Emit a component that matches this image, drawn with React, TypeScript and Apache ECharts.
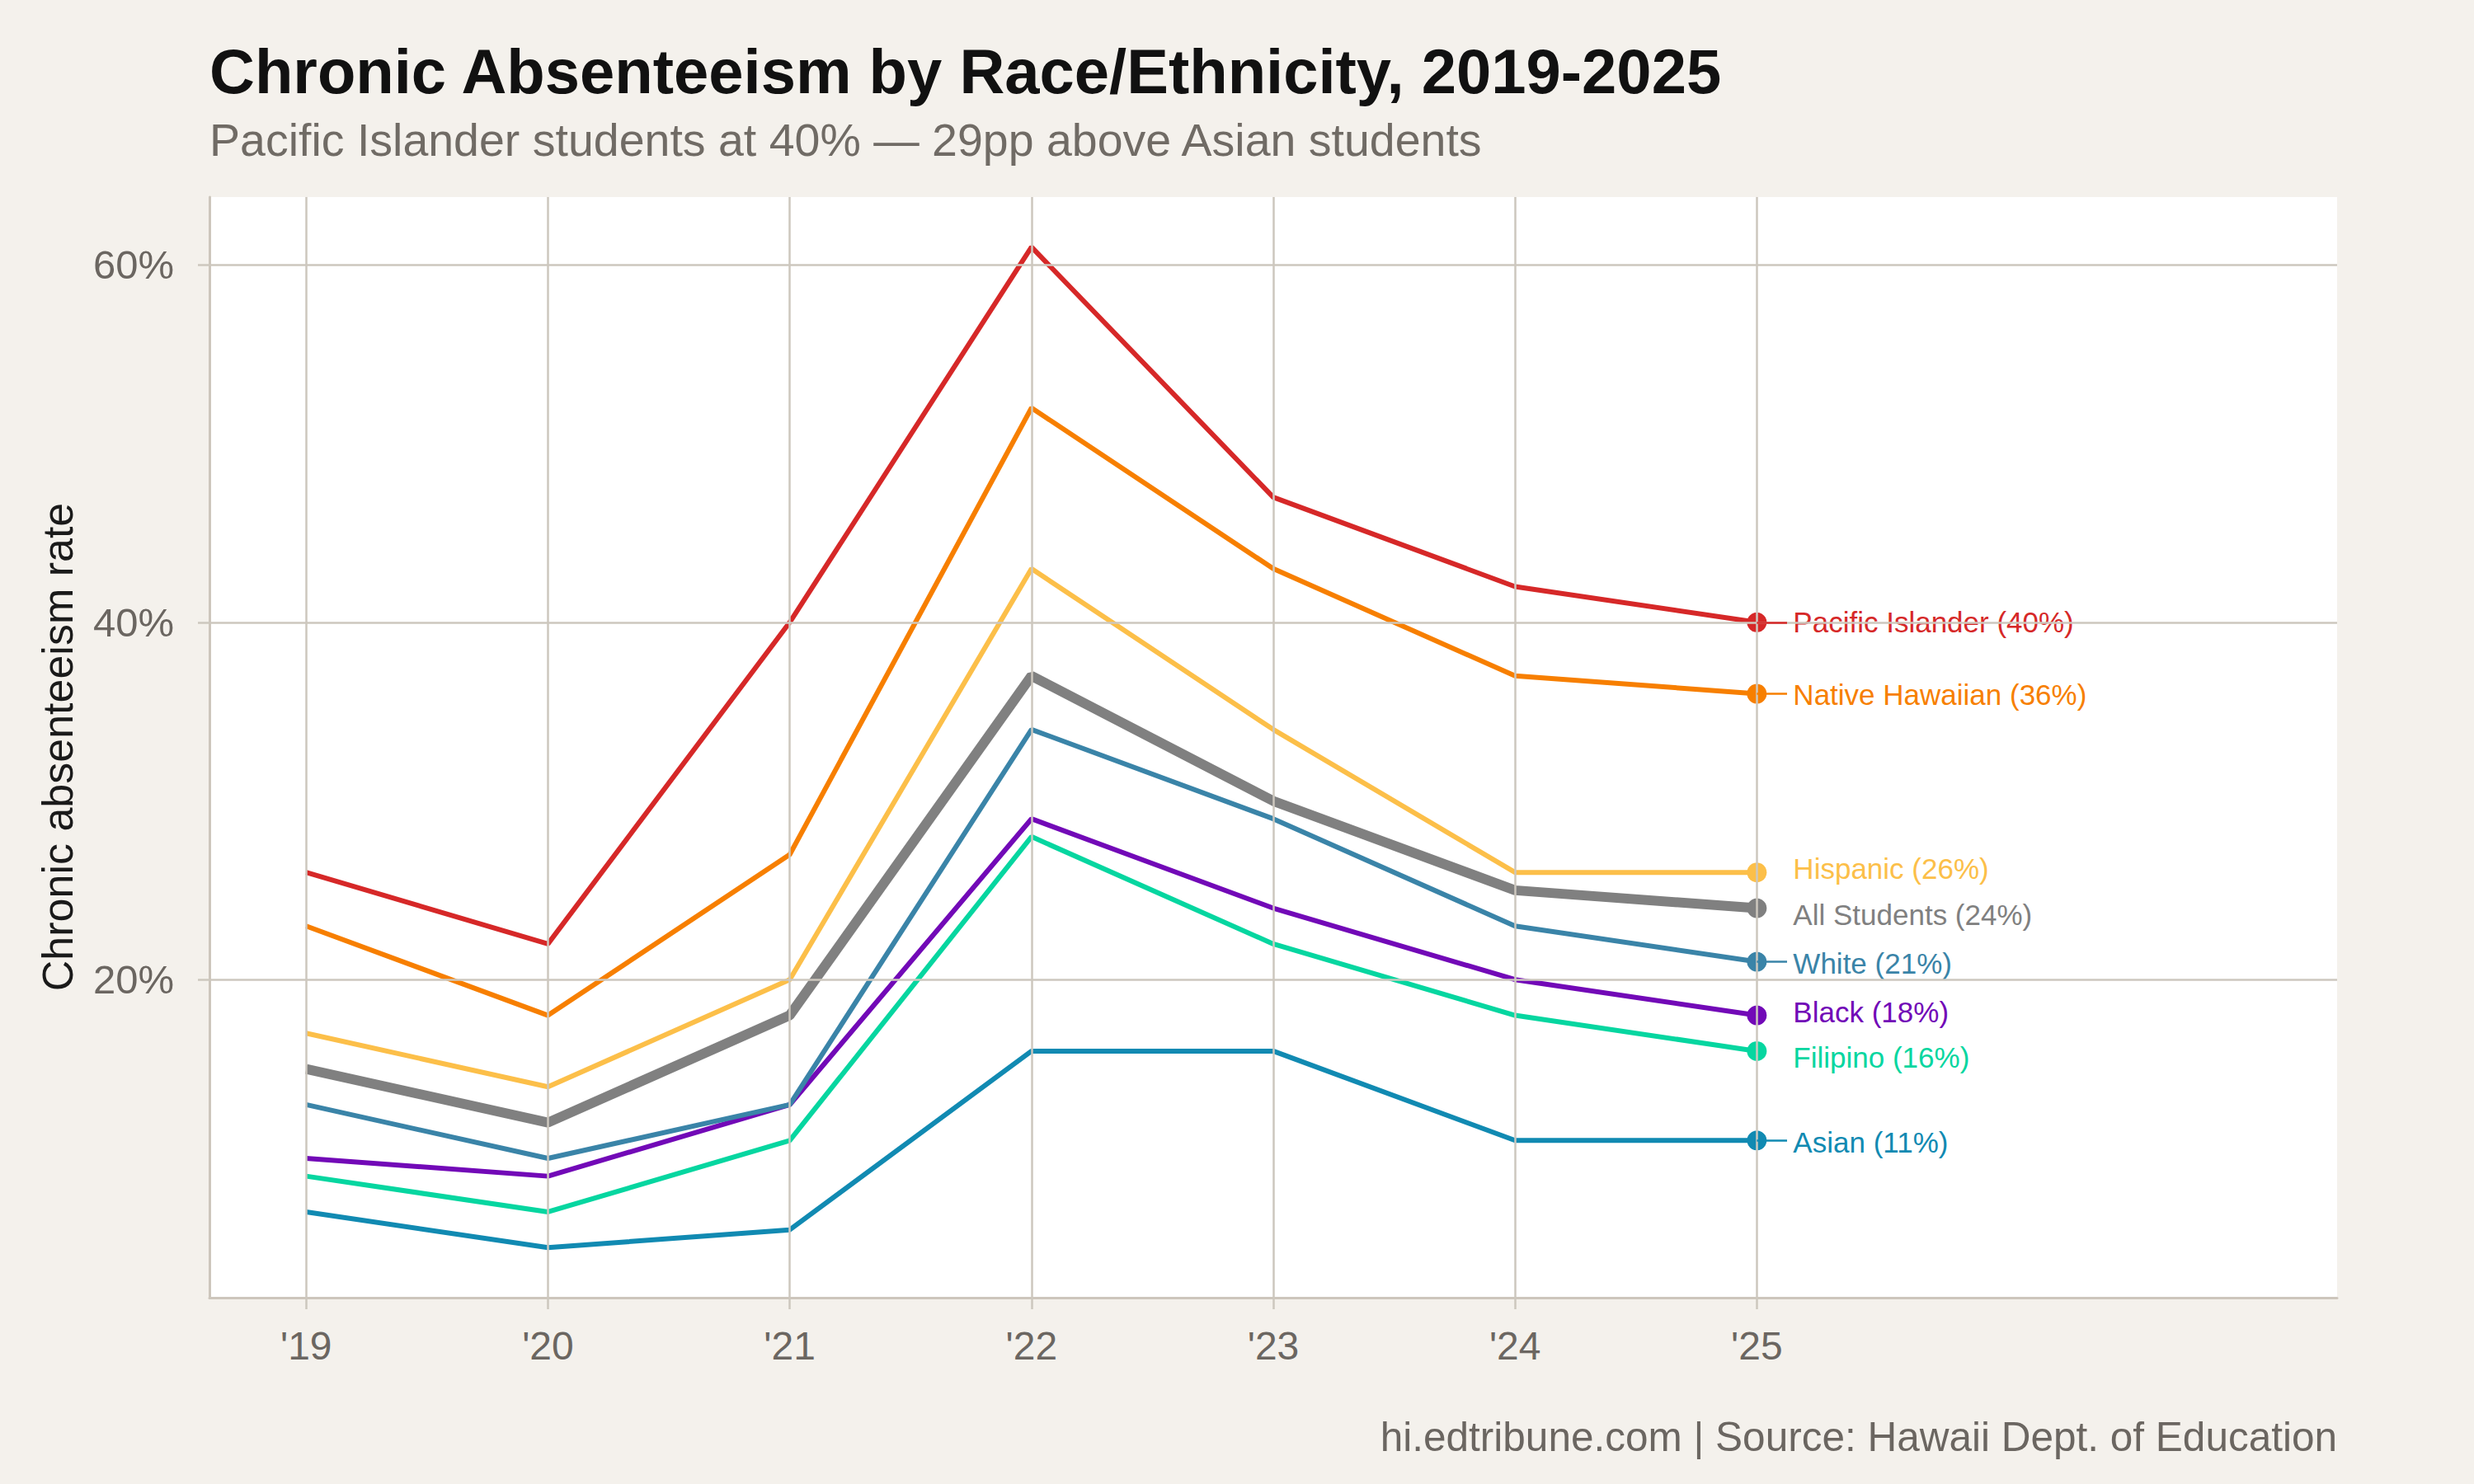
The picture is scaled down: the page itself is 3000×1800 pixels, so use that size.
import React, { useEffect, useRef } from "react";
import * as echarts from "echarts";

// School years (spring of each year)
const years = [2019, 2020, 2021, 2022, 2023, 2024, 2025];
const yearLabels = ["'19", "'20", "'21", "'22", "'23", "'24", "'25"];

// Chronic absenteeism rate (%) by group
const pacificIslander = [26, 22, 40, 61, 47, 42, 40];
const nativeHawaiian = [23, 18, 27, 52, 43, 37, 36];
const hispanic = [17, 14, 20, 43, 34, 26, 26];
const allStudents = [15, 12, 18, 37, 30, 25, 24];
const white = [13, 10, 13, 34, 29, 23, 21];
const black = [10, 9, 13, 29, 24, 20, 18];
const filipino = [9, 7, 11, 28, 22, 18, 16];
const asian = [7, 5, 6, 16, 16, 11, 11];

const yTicks = [20, 40, 60];

const FONT = "'Liberation Sans', Arial, Helvetica, sans-serif";
const PAGE_BG = "#f4f1ec";
const GRID_COLOR = "#cdc7be";
const AXIS_COLOR = "#cdc6bc";
const MUTED = "#6b6661";

type Group = {
  name: string;
  values: number[];
  color: string;
  width: number;
  dy: number;
  connector: boolean;
};

const groups: Group[] = [
  { name: "All Students", values: allStudents, color: "#808080", width: 12, dy: 8, connector: false },
  { name: "Asian", values: asian, color: "#118ab2", width: 6, dy: 2, connector: true },
  { name: "Filipino", values: filipino, color: "#06d6a0", width: 6, dy: 8, connector: false },
  { name: "Black", values: black, color: "#7209b7", width: 6, dy: -4, connector: false },
  { name: "White", values: white, color: "#3a84a8", width: 6, dy: 2, connector: true },
  { name: "Hispanic", values: hispanic, color: "#fcbf49", width: 6, dy: -5, connector: false },
  { name: "Native Hawaiian", values: nativeHawaiian, color: "#f77f00", width: 6, dy: 1, connector: true },
  { name: "Pacific Islander", values: pacificIslander, color: "#d62828", width: 6, dy: 0, connector: true },
];

const allValues = groups.flatMap((g) => g.values);
const dataMin = Math.min(...allValues);
const dataMax = Math.max(...allValues);
const yPad = (dataMax - dataMin) * 0.05;
const xFirst = years[0];
const xLimit = 2027;
const xPad = (xLimit - xFirst) * 0.05;

export default function App() {
  const ref = useRef<HTMLDivElement>(null);

  useEffect(() => {
    document.body.style.margin = "0";
    if (!ref.current) return;
    const chart = echarts.init(ref.current, null, { renderer: "svg" });
    const last = years.length - 1;

    const lineSeries = groups.map((g) => ({
      type: "line",
      name: g.name,
      z: 3,
      animation: false,
      showSymbol: true,
      showAllSymbol: true,
      symbol: "circle",
      symbolSize: 0,
      lineStyle: { color: g.color, width: g.width },
      itemStyle: { color: g.color },
      emphasis: { disabled: true },
      data: years.map((yr, i) =>
        i === last
          ? {
              value: [yr, g.values[i]],
              symbolSize: 24,
              label: {
                show: true,
                position: "right",
                distance: 32,
                offset: [0, g.dy],
                formatter: `${g.name} (${g.values[i]}%)`,
                color: g.color,
                fontSize: 35,
                fontFamily: FONT,
              },
            }
          : { value: [yr, g.values[i]] }
      ),
      markLine: g.connector
        ? {
            silent: true,
            symbol: "none",
            animation: false,
            label: { show: false },
            lineStyle: { color: g.color, width: 2.5, type: "solid" },
            data: [
              [
                { coord: [years[last], g.values[last]] },
                { coord: [years[last] + 0.125, g.values[last]] },
              ],
            ],
          }
        : undefined,
    }));

    // Background gridlines drawn beneath the data lines
    const gridSeries = {
      type: "line",
      name: "grid",
      z: 1,
      data: [],
      animation: false,
      markLine: {
        silent: true,
        symbol: "none",
        animation: false,
        label: { show: false },
        lineStyle: { color: GRID_COLOR, width: 2.5, type: "solid" },
        data: [
          ...years.map((yr) => ({ xAxis: yr })),
          ...yTicks.map((v) => ({ yAxis: v })),
        ],
      },
    };

    chart.setOption({
      animation: false,
      backgroundColor: PAGE_BG,
      textStyle: { fontFamily: FONT },
      grid: {
        left: 254,
        right: 166,
        top: 239,
        bottom: 226,
        show: true,
        backgroundColor: "#ffffff",
        borderWidth: 0,
        containLabel: false,
      },
      xAxis: {
        type: "value",
        min: xFirst - xPad,
        max: xLimit + xPad,
        axisLine: { show: true, onZero: false, lineStyle: { color: AXIS_COLOR, width: 3 } },
        axisTick: {
          show: true,
          length: 14,
          customValues: years,
          lineStyle: { color: GRID_COLOR, width: 2.5 },
        },
        axisLabel: {
          show: true,
          customValues: years,
          margin: 34,
          color: MUTED,
          fontSize: 48,
          fontFamily: FONT,
          formatter: (v: number) => yearLabels[years.indexOf(Math.round(v))] ?? "",
        },
        splitLine: { show: false },
      },
      yAxis: {
        type: "value",
        min: dataMin - yPad,
        max: dataMax + yPad,
        axisLine: { show: true, lineStyle: { color: AXIS_COLOR, width: 3 } },
        axisTick: {
          show: true,
          length: 14,
          customValues: yTicks,
          lineStyle: { color: GRID_COLOR, width: 2.5 },
        },
        axisLabel: {
          show: true,
          customValues: yTicks,
          margin: 43,
          color: MUTED,
          fontSize: 49,
          fontFamily: FONT,
          formatter: (v: number) => `${Math.round(v)}%`,
        },
        splitLine: { show: false },
      },
      graphic: [
        {
          type: "text",
          left: 254,
          top: 48,
          style: {
            text: "Chronic Absenteeism by Race/Ethnicity, 2019-2025",
            fill: "#111111",
            font: `bold 76px ${FONT}`,
          },
        },
        {
          type: "text",
          left: 254,
          top: 142,
          style: {
            text: "Pacific Islander students at 40% \u2014 29pp above Asian students",
            fill: "#706b65",
            font: `55.5px ${FONT}`,
          },
        },
        {
          type: "text",
          x: 70,
          y: 906,
          rotation: Math.PI / 2,
          style: {
            text: "Chronic absenteeism rate",
            fill: "#1a1a1a",
            font: `52px ${FONT}`,
            textAlign: "center",
            textVerticalAlign: "middle",
          },
        },
        {
          type: "text",
          right: 166,
          top: 1717,
          style: {
            text: "hi.edtribune.com | Source: Hawaii Dept. of Education",
            fill: MUTED,
            font: `49.5px ${FONT}`,
          },
        },
      ],
      series: [gridSeries, ...lineSeries],
    });

    return () => chart.dispose();
  }, []);

  return <div ref={ref} style={{ width: 3000, height: 1800, background: PAGE_BG }} />;
}
